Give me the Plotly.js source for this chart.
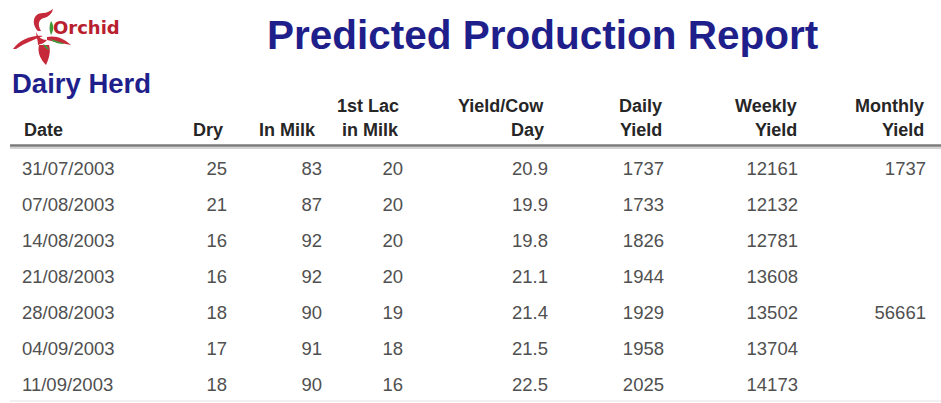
<!DOCTYPE html>
<html>
<head>
<meta charset="utf-8">
<script src="https://cdn.plot.ly/plotly-3.0.1.min.js"></script>
<style>html,body{margin:0;padding:0;background:#fff;}#chart{width:941px;height:403px;}</style>
</head>
<body>
<div id="chart"></div>
<script>
// ---- Data ----
const dates = ['31/07/2003','07/08/2003','14/08/2003','21/08/2003','28/08/2003','04/09/2003','11/09/2003'];
const dry = [25, 21, 16, 16, 18, 17, 18];
const inMilk = [83, 87, 92, 92, 90, 91, 90];
const firstLacInMilk = [20, 20, 20, 20, 19, 18, 16];
const yieldPerCowDay = [20.9, 19.9, 19.8, 21.1, 21.4, 21.5, 22.5];
const dailyYield = [1737, 1733, 1826, 1944, 1929, 1958, 2025];
const weeklyYield = [12161, 12132, 12781, 13608, 13502, 13704, 14173];
const monthlyYield = [1737, null, null, null, 56661, null, null];
const headerLine1 = ['', '', '', '1st Lac', 'Yield/Cow', 'Daily', 'Weekly', 'Monthly'];
const headerLine2 = ['Date', 'Dry', 'In Milk', 'in Milk', 'Day', 'Yield', 'Yield', 'Yield'];
const reportTitle = 'Predicted Production Report';
const subTitle = 'Dairy Herd';
const logoText = 'Orchid';

// ---- Layout constants (pixel positions) ----
const W = 941, H = 403;
const colX = [22, 227, 322, 403, 548, 664, 798, 926];       // value anchors
const headX = [22, 225, 318, 401, 546, 664, 799, 926];      // header anchors
const firstRowPx = 170, rowStepPx = 36;
const headLine1Px = 106, headLine2Px = 130;

const valFont = {family: 'Liberation Sans, Arial, sans-serif', size: 18.5, color: '#505050'};
const headFont = {family: 'Liberation Sans, Arial, sans-serif', size: 18, color: '#262626', weight: 'bold'};
const navy = '#1f1f8c';

const columns = [
  dates,
  dry.map(String),
  inMilk.map(String),
  firstLacInMilk.map(String),
  yieldPerCowDay.map(v => v.toFixed(1)),
  dailyYield.map(String),
  weeklyYield.map(String),
  monthlyYield.map(v => v == null ? '' : String(v))
];

const traces = [{x: [], y: [], type: 'scatter', mode: 'markers', hoverinfo: 'skip', showlegend: false}];
columns.forEach((col, c) => {
  traces.push({
    type: 'scatter', mode: 'text',
    x: dates.map(() => colX[c]),
    y: dates,
    text: col,
    textposition: c === 0 ? 'middle right' : 'middle left',
    textfont: valFont,
    yaxis: 'y2', hoverinfo: 'skip', showlegend: false, cliponaxis: false
  });
});

// y2: categorical rows, index i at pixel firstRowPx + i*rowStepPx
const y2lo = (0 - firstRowPx) / rowStepPx;
const y2hi = (H - firstRowPx) / rowStepPx;

const annotations = [];
headerLine1.forEach((t, c) => {
  if (t) annotations.push({xref: 'x', yref: 'y', x: headX[c], y: headLine1Px, text: t, showarrow: false,
    xanchor: c === 0 ? 'left' : 'right', yanchor: 'middle', font: headFont});
});
headerLine2.forEach((t, c) => {
  annotations.push({xref: 'x', yref: 'y', x: headX[c], y: headLine2Px, text: t, showarrow: false,
    xanchor: c === 0 ? 'left' : 'right', yanchor: 'middle', font: headFont});
});
annotations.push({xref: 'x', yref: 'y', x: 542, y: 35, text: reportTitle, showarrow: false,
  xanchor: 'center', yanchor: 'middle',
  font: {family: 'Liberation Sans, Arial, sans-serif', size: 40.5, color: navy, weight: 'bold'}});
annotations.push({xref: 'x', yref: 'y', x: 10, y: 83, text: subTitle, showarrow: false,
  xanchor: 'left', yanchor: 'middle',
  font: {family: 'Liberation Sans, Arial, sans-serif', size: 27.5, color: navy, weight: 'bold'}});
annotations.push({xref: 'x', yref: 'y', x: 51, y: 27, text: logoText, showarrow: false,
  xanchor: 'left', yanchor: 'middle',
  font: {family: 'DejaVu Sans, sans-serif', size: 18, color: '#b8202e', weight: 'bold'}});

const red = '#c62a3a', green = '#3e9a3a';
const shapes = [
  // header rule
  {type: 'line', xref: 'x', yref: 'y', x0: 10, x1: W, y0: 145.5, y1: 145.5, line: {color: '#7a7a7a', width: 2.5}},
  {type: 'line', xref: 'x', yref: 'y', x0: 10, x1: W, y0: 148, y1: 148, line: {color: '#c4c4c4', width: 1.5}},
  // bottom rule
  {type: 'line', xref: 'x', yref: 'y', x0: 10, x1: W, y0: 401, y1: 401, line: {color: '#e2e2e2', width: 1}},
  // logo petals
  {type: 'path', xref: 'x', yref: 'y', path: 'M 38 31 C 31 24, 33 13, 43 13 C 47 13, 50 11, 53 9 C 52 14, 48 17, 44 18 C 39 19, 37 24, 41 31 Z', fillcolor: red, line: {width: 0}},
  {type: 'path', xref: 'x', yref: 'y', path: 'M 13 49 C 20 40, 31 35, 43 36 C 35 39, 25 43, 16 49 Z', fillcolor: red, line: {width: 0}},
  {type: 'path', xref: 'x', yref: 'y', path: 'M 47 37 C 55 35, 64 38, 71 45 C 62 43, 54 42, 47 40 Z', fillcolor: red, line: {width: 0}},
  {type: 'path', xref: 'x', yref: 'y', path: 'M 39 45 C 37 53, 41 60, 46 65 C 49 58, 51 52, 49 45 Z', fillcolor: red, line: {width: 0}},
  {type: 'path', xref: 'x', yref: 'y', path: 'M 36 32 C 38 37, 42 40, 47 40 C 44 44, 40 44, 38 45 C 38 40, 36 36, 36 32 Z', fillcolor: red, line: {width: 0}},
  {type: 'path', xref: 'x', yref: 'y', path: 'M 51 21 C 54 25, 54 30, 51 35 C 49 30, 49 26, 51 21 Z', fillcolor: green, line: {width: 0}},
  {type: 'path', xref: 'x', yref: 'y', path: 'M 50 39 C 55 40, 60 42, 65 44 C 59 44, 54 43, 50 39 Z', fillcolor: green, line: {width: 0}},
  {type: 'path', xref: 'x', yref: 'y', path: 'M 43 44 C 46 45, 48 47, 49 50 C 46 49, 44 47, 43 44 Z', fillcolor: green, line: {width: 0}}
];

const layout = {
  width: W, height: H,
  margin: {l: 0, r: 0, t: 0, b: 0, pad: 0},
  paper_bgcolor: '#ffffff', plot_bgcolor: '#ffffff',
  showlegend: false, hovermode: false,
  xaxis: {range: [0, W], visible: false, fixedrange: true},
  yaxis: {range: [H, 0], visible: false, fixedrange: true},
  yaxis2: {type: 'category', categoryorder: 'array', categoryarray: dates,
    range: [y2hi, y2lo], overlaying: 'y', visible: false, fixedrange: true},
  annotations: annotations,
  shapes: shapes
};

Plotly.newPlot('chart', traces, layout, {staticPlot: true, displayModeBar: false});
</script>
</body>
</html>
